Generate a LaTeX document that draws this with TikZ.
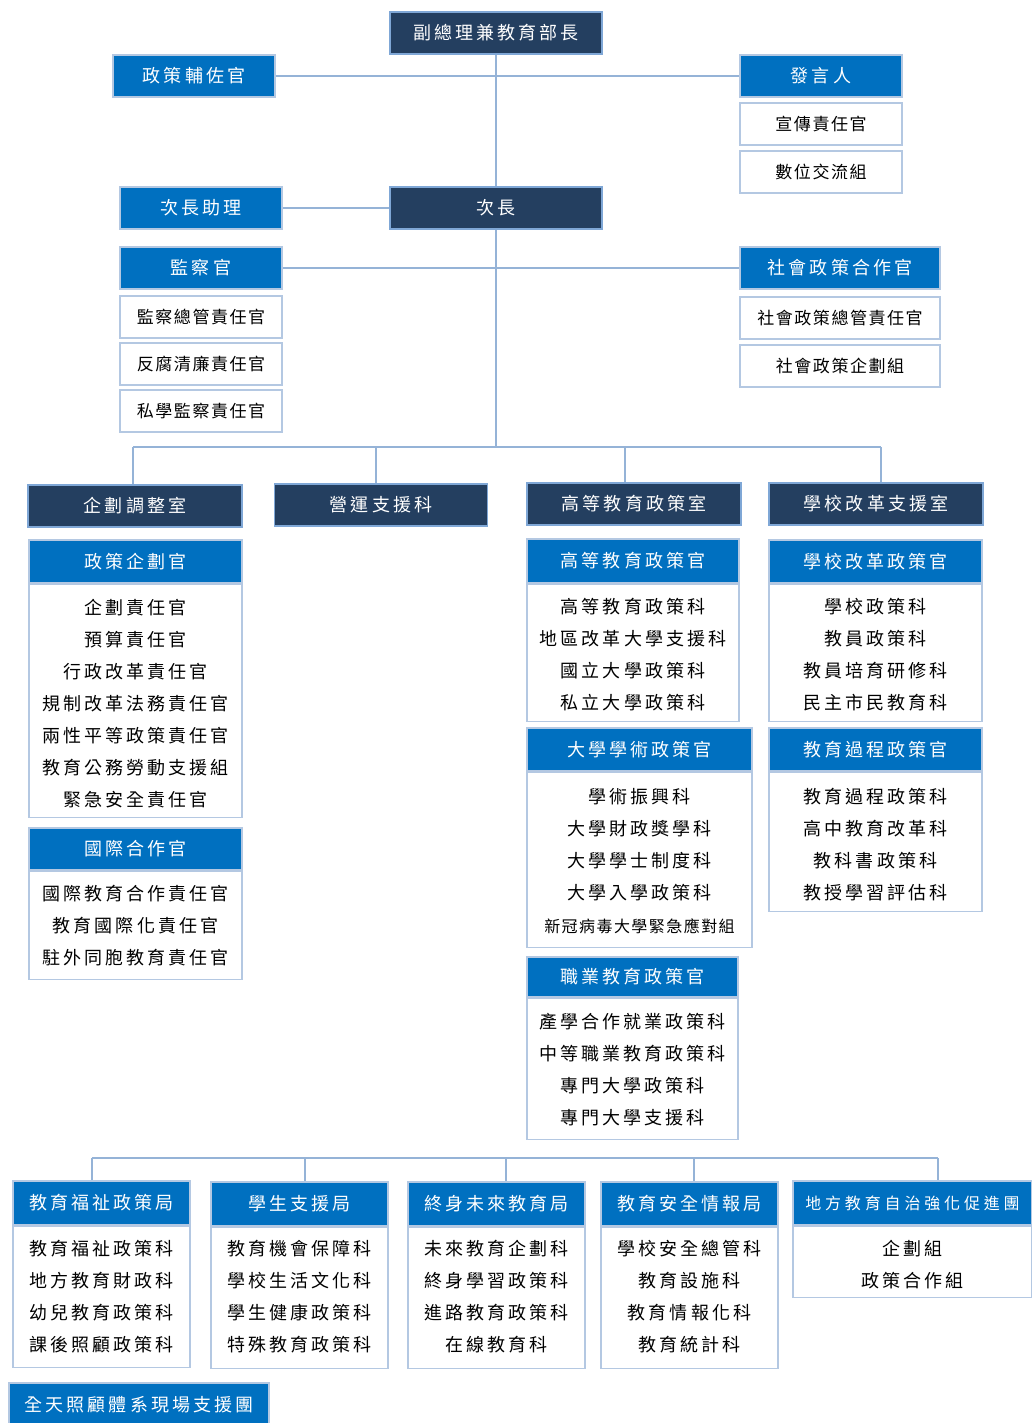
\documentclass[tikz,border=0pt]{standalone}
\usepackage{fontspec}
\newfontfamily\cjk[LetterSpace=17]{Noto Sans CJK TC}
\newfontfamily\cjkw[LetterSpace=9]{Noto Sans CJK TC}
\newfontfamily\cjks[LetterSpace=24]{Noto Sans CJK TC}
\definecolor{navy}{HTML}{243F60}
\definecolor{mblue}{HTML}{0070C0}
\definecolor{bord}{HTML}{B4C8E2}
\definecolor{dbord}{HTML}{7FA7D6}
\definecolor{lineblue}{HTML}{95B3D7}
\tikzset{
  hd/.style={line width=1.5pt, minimum height=42pt, inner sep=0pt, text=white,
    font=\cjk\fontsize{18}{18}\selectfont},
  dk/.style={hd, draw=dbord, fill=navy},
  bl/.style={hd, draw=bord, fill=mblue},
  wt/.style={draw=bord, line width=1.5pt, fill=white, minimum height=42pt, inner sep=0pt,
    text=black, font=\cjkw\fontsize{17}{17}\selectfont},
  bodybox/.style={draw=bord, line width=1.5pt, fill=white, inner sep=0pt, anchor=north},
  txt/.style={align=center, inner sep=0pt, text=black, font=\cjk\fontsize{18}{32}\selectfont},
  conn/.style={draw=lineblue, line width=2pt},
}
\begin{document}
\begin{tikzpicture}[x=1pt,y=-1pt]
\useasboundingbox[fill=white] (0,0) rectangle (1032,1423);

% ---------- top ----------
\node[dk,minimum width=212pt] (min) at (496,33) {副總理兼教育部長};
\node[bl,minimum width=162pt] (aide) at (194,76) {政策輔佐官};
\node[bl,minimum width=162pt] (spk) at (821,76) {發言人};
\node[wt,minimum width=162pt] (pr) at (821,124) {宣傳責任官};
\node[wt,minimum width=162pt] (dig) at (821,172) {數位交流組};
\node[dk,minimum width=212pt] (vice) at (496,208) {次長};
\node[bl,minimum width=162pt] (vaide) at (201,208) {次長助理};
\node[bl,minimum width=162pt] (insp) at (201,268) {監察官};
\node[wt,minimum width=162pt] (i1) at (201,317) {監察總管責任官};
\node[wt,minimum width=162pt] (i2) at (201,364) {反腐清廉責任官};
\node[wt,minimum width=162pt] (i3) at (201,411) {私學監察責任官};
\node[bl,minimum width=200pt] (soc) at (840,268) {社會政策合作官};
\node[wt,minimum width=200pt] (s1) at (840,318) {社會政策總管責任官};
\node[wt,minimum width=200pt] (s2) at (840,366) {社會政策企劃組};

\draw[conn] (min.south) -- (vice.north);
\draw[conn] (aide.east) -- (spk.west);
\draw[conn] (vaide.east) -- (vice.west);
\draw[conn] (insp.east) -- (soc.west);

% ---------- second tier ----------
\node[dk,minimum width=214pt] (plan) at (135,506) {企劃調整室};
\node[dk,minimum width=213pt] (ops) at (381,505) {營運支援科};
\node[dk,minimum width=214pt] (he) at (634,504) {高等教育政策室};
\node[dk,minimum width=214pt] (sr) at (876,504) {學校改革支援室};

\coordinate (bus) at (496,447);
\coordinate (b1) at (133,447);
\coordinate (b2) at (376,447);
\coordinate (b3) at (625,447);
\coordinate (b4) at (881,447);
\draw[conn] (vice.south) -- (bus);
\draw[conn] (b1) -- (b4);
\draw[conn] (b1) -- (b1 |- plan.north);
\draw[conn] (b2) -- (b2 |- ops.north);
\draw[conn] (b3) -- (b3 |- he.north);
\draw[conn] (b4) -- (b4 |- sr.north);

% left column
\node[bl,minimum width=213pt,minimum height=43pt] (pp) at (135.5,561.5) {政策企劃官};
\node[bodybox,minimum width=213pt,minimum height=233pt] (ppb) at (pp.south) {};
\node[txt] (ppt) at (135.5,703.5) {企劃責任官\\預算責任官\\行政改革責任官\\規制改革法務責任官\\兩性平等政策責任官\\教育公務勞動支援組\\緊急安全責任官};

\node[bl,minimum width=213pt,minimum height=42pt] (ic) at (135.5,849) {國際合作官};
\node[bodybox,minimum width=213pt,minimum height=108pt] (icb) at (ic.south) {};
\node[txt] (ict) at (135.5,926) {國際教育合作責任官\\教育國際化責任官\\駐外同胞教育責任官};

% middle column
\node[bl,minimum width=212pt,minimum height=44pt] (hp) at (633,561) {高等教育政策官};
\node[bodybox,minimum width=212pt,minimum height=137pt] (hpb) at (hp.south) {};
\node[txt] (hpt) at (633,655) {高等教育政策科\\地區改革大學支援科\\國立大學政策科\\私立大學政策科};

\node[bl,minimum width=225pt,minimum height=43pt] (ua) at (639.5,749.5) {大學學術政策官};
\node[bodybox,minimum width=225pt,minimum height=175pt] (uab) at (ua.south) {};
\node[txt] (uat) at (639.5,845) {學術振興科\\大學財政獎學科\\大學學士制度科\\大學入學政策科};
\node[txt,font=\cjkw\fontsize{16}{16}\selectfont] (uat2) at (639.5,926) {新冠病毒大學緊急應對組};

\node[bl,minimum width=211pt,minimum height=40pt] (vp) at (632.5,977) {職業教育政策官};
\node[bodybox,minimum width=211pt,minimum height=141pt] (vpb) at (vp.south) {};
\node[txt] (vpt) at (632.5,1070) {產學合作就業政策科\\中等職業教育政策科\\專門大學政策科\\專門大學支援科};

% right column
\node[bl,minimum width=213pt,minimum height=43pt] (srp) at (875.5,561.5) {學校改革政策官};
\node[bodybox,minimum width=213pt,minimum height=137pt] (srpb) at (srp.south) {};
\node[txt] (srpt) at (875.5,655) {學校政策科\\教員政策科\\教員培育研修科\\民主市民教育科};

\node[bl,minimum width=213pt,minimum height=43pt] (cp) at (875.5,749.5) {教育過程政策官};
\node[bodybox,minimum width=213pt,minimum height=139pt] (cpb) at (cp.south) {};
\node[txt] (cpt) at (875.5,845) {教育過程政策科\\高中教育改革科\\教科書政策科\\教授學習評估科};

% ---------- bottom ----------
\node[bl,minimum width=177pt,minimum height=44pt] (w1) at (101.5,1203) {教育福祉政策局};
\node[bodybox,minimum width=177pt,minimum height=141pt] (w1b) at (w1.south) {};
\node[txt] (w1t) at (101.5,1297) {教育福祉政策科\\地方教育財政科\\幼兒教育政策科\\課後照顧政策科};

\node[bl,minimum width=177pt,minimum height=44pt] (w2) at (299.5,1204) {學生支援局};
\node[bodybox,minimum width=177pt,minimum height=141pt] (w2b) at (w2.south) {};
\node[txt] (w2t) at (299.5,1297) {教育機會保障科\\學校生活文化科\\學生健康政策科\\特殊教育政策科};

\node[bl,minimum width=177pt,minimum height=44pt] (w3) at (496.5,1204) {終身未來教育局};
\node[bodybox,minimum width=177pt,minimum height=141pt] (w3b) at (w3.south) {};
\node[txt] (w3t) at (496.5,1297) {未來教育企劃科\\終身學習政策科\\進路教育政策科\\在線教育科};

\node[bl,minimum width=177pt,minimum height=44pt] (w4) at (689.5,1204) {教育安全情報局};
\node[bodybox,minimum width=177pt,minimum height=141pt] (w4b) at (w4.south) {};
\node[txt] (w4t) at (689.5,1297) {學校安全總管科\\教育設施科\\教育情報化科\\教育統計科};

\node[bl,minimum width=239pt,minimum height=44pt,font=\cjks\fontsize{16}{16}\selectfont] (w5) at (912.5,1203) {地方教育自治強化促進團};
\node[bodybox,minimum width=239pt,minimum height=71pt] (w5b) at (w5.south) {};
\node[txt] (w5t) at (912.5,1265) {企劃組\\政策合作組};

\node[bl,minimum width=260pt,minimum height=44pt] (w6) at (139,1405) {全天照顧體系現場支援團};

\coordinate (c1) at (92,1158);
\coordinate (c2) at (305,1158);
\coordinate (c3) at (506,1158);
\coordinate (c4) at (694,1158);
\coordinate (c5) at (938,1158);
\draw[conn] (c1) -- (c5);
\draw[conn] (c1) -- (c1 |- w1.north);
\draw[conn] (c2) -- (c2 |- w2.north);
\draw[conn] (c3) -- (c3 |- w3.north);
\draw[conn] (c4) -- (c4 |- w4.north);
\draw[conn] (c5) -- (c5 |- w5.north);
\end{tikzpicture}
\end{document}
